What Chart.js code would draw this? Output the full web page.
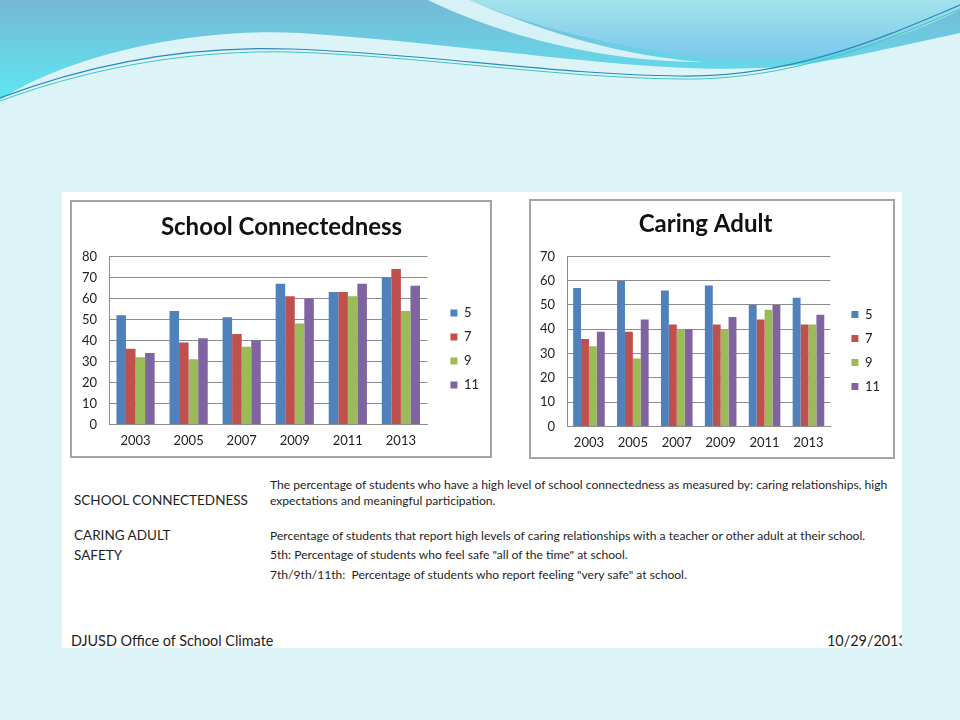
<!DOCTYPE html>
<html>
<head>
<meta charset="utf-8">
<script src="https://cdn.jsdelivr.net/npm/chart.js"></script>
<style>
  body { margin: 0; width: 960px; height: 720px; background: #dcf4f8; position: relative; overflow: hidden; font-family: Lato, "Open Sans", sans-serif; }
  #deco { position: absolute; left: 0; top: 0; }
  #panel { position: absolute; left: 62px; top: 192px; width: 840px; height: 456px; background: #fff; overflow: hidden; }
  .box { position: absolute; border: 2px solid #a4a4a4; background: #fff; }
  .box canvas { display: block; }
  .t { position: absolute; color: #1e1e1e; white-space: nowrap; }
  .lab { font-size: 13.5px; }
  .desc { font-size: 12.1px; }
  .foot { font-size: 14.4px; }
</style>
</head>
<body>
<svg id="deco" width="960" height="130">
  <defs>
    <linearGradient id="g1" x1="0" y1="0" x2="0" y2="1">
      <stop offset="0" stop-color="#77b8d6"/>
      <stop offset="1" stop-color="#5ee6f1"/>
    </linearGradient>
    <linearGradient id="g2" x1="0" y1="0" x2="0" y2="1">
      <stop offset="0" stop-color="#a2e2ea"/>
      <stop offset="1" stop-color="#7bc8ec"/>
    </linearGradient>
  </defs>
  <path d="M0,0 H960 V33 C880,50 820,66 760,68 C640,74 480,45 300,33 C180,27 60,60 0,100 Z" fill="url(#g1)"/>
  <path d="M470,0 H960 V10 C900,40 840,58 760,60 C700,62 560,40 470,0 Z" fill="url(#g2)"/>
  <path d="M428,0 H470 C560,40 640,58 704,62 C600,62 500,35 428,0 Z" fill="#d6f2f7"/>
  <path d="M0,98 C100,60 200,46 290,49 C420,53 560,75 680,76 C800,78 900,30 960,5" stroke="#2c86c2" stroke-width="1.2" fill="none"/>
  <path d="M0,101 C100,64 200,50 290,52 C420,56 560,78 680,79 C800,81 900,34 960,9" stroke="#3fc6bb" stroke-width="1" fill="none"/>
</svg>

<div id="panel">
  <div class="box" style="left:8px;top:8px;width:418px;height:254px;"><canvas id="c1" width="418" height="254"></canvas></div>
  <div class="box" style="left:467px;top:7px;width:362px;height:256px;"><canvas id="c2" width="362" height="256"></canvas></div>

  <div class="t desc" style="left:208px;top:285px;">The percentage of students who have a high level of school connectedness as measured by: caring relationships, high</div>
  <div class="t desc" style="left:208px;top:301px;">expectations and meaningful participation.</div>
  <div class="t lab" style="left:12px;top:300px;">SCHOOL CONNECTEDNESS</div>
  <div class="t lab" style="left:12px;top:335px;">CARING ADULT</div>
  <div class="t lab" style="left:12px;top:355px;">SAFETY</div>
  <div class="t desc" style="left:208px;top:336px;">Percentage of students that report high levels of caring relationships with a teacher or other adult at their school.</div>
  <div class="t desc" style="left:208px;top:355px;">5th: Percentage of students who feel safe "all of the time" at school.</div>
  <div class="t desc" style="left:208px;top:375px;">7th/9th/11th:&nbsp; Percentage of students who report feeling "very safe" at school.</div>
  <div class="t foot" style="left:9px;top:440px;">DJUSD Office of School Climate</div>
  <div class="t foot" style="left:765px;top:440px;">10/29/2013</div>
</div>

<script>
// ── Data ────────────────────────────────────────────────────────────────
const years = ['2003', '2005', '2007', '2009', '2011', '2013'];
const grades = ['5', '7', '9', '11'];

// School Connectedness (%)
const connGrade5 = [52, 54, 51, 67, 63, 70];
const connGrade7 = [36, 39, 43, 61, 63, 74];
const connGrade9 = [32, 31, 37, 48, 61, 54];
const connGrade11 = [34, 41, 40, 60, 67, 66];
const connTicks = [0, 10, 20, 30, 40, 50, 60, 70, 80];

// Caring Adult (%)
const caringGrade5 = [57, 60, 56, 58, 50, 53];
const caringGrade7 = [36, 39, 42, 42, 44, 42];
const caringGrade9 = [33, 28, 40, 40, 48, 42];
const caringGrade11 = [39, 44, 40, 45, 50, 46];
const caringTicks = [0, 10, 20, 30, 40, 50, 60, 70];

const colors = ['#4f81bd', '#c0504d', '#9bbb59', '#8064a2'];
const font = "Lato, 'Open Sans', sans-serif";

// nudge legend + title blocks (Excel places them a bit off the Chart.js defaults)
const boxNudge = {
    id: 'boxNudge',
    afterLayout(chart, args, opts) {
        const lg = chart.legend;
        if (lg) {
            lg.left += opts.dx; lg.right += opts.dx;
            lg.top += opts.dy; lg.bottom += opts.dy;
        }
        const tt = chart.titleBlock;
        if (tt) { tt.left += opts.tdx; tt.right += opts.tdx; }
    }
};

function makeChart(id, title, series, ticks, o) {
    const ctx = document.getElementById(id).getContext('2d');
    new Chart(ctx, {
        type: 'bar',
        data: {
            labels: years,
            datasets: series.map((data, i) => ({
                label: grades[i], data, backgroundColor: colors[i],
                categoryPercentage: 0.72, barPercentage: 1.0, borderWidth: 0
            }))
        },
        plugins: [boxNudge],
        options: {
            responsive: false,
            animation: false,
            layout: { padding: { left: 0, right: o.padRight, top: 0, bottom: o.padBottom } },
            plugins: {
                title: { display: true, text: title, color: '#111', font: { family: font, size: 24, weight: 'bold' }, padding: { top: o.titleTop, bottom: o.titleBottom } },
                legend: {
                    position: 'right',
                    labels: { boxWidth: 7, boxHeight: 7, padding: 11, color: '#222', font: { family: font, size: 13 } }
                },
                boxNudge: { dx: o.dx, dy: o.dy, tdx: o.tdx },
                tooltip: { enabled: false }
            },
            scales: {
                x: {
                    grid: { display: false, drawTicks: false },
                    border: { color: '#8c8c8c' },
                    ticks: { color: '#222', font: { family: font, size: 13 }, padding: 9 }
                },
                y: {
                    min: ticks[0], max: ticks[ticks.length - 1],
                    afterBuildTicks: s => { s.ticks = ticks.map(v => ({ value: v })); },
                    afterFit: s => { s.width = o.yWidth; },
                    grid: { color: '#8c8c8c', drawTicks: false },
                    border: { color: '#8c8c8c' },
                    ticks: { color: '#222', font: { family: font, size: 13 }, padding: 12 }
                }
            }
        }
    });
}

makeChart('c1', 'School Connectedness', [connGrade5, connGrade7, connGrade9, connGrade11], connTicks,
    { yWidth: 37, padRight: 13, padBottom: -2, titleTop: 11, titleBottom: 14.6, dx: 12, dy: 19, tdx: 7 });
makeChart('c2', 'Caring Adult', [caringGrade5, caringGrade7, caringGrade9, caringGrade11], caringTicks,
    { yWidth: 36, padRight: 13, padBottom: -3, titleTop: 9, titleBottom: 17.6, dx: 10, dy: 20, tdx: 0 });
</script>
</body>
</html>
